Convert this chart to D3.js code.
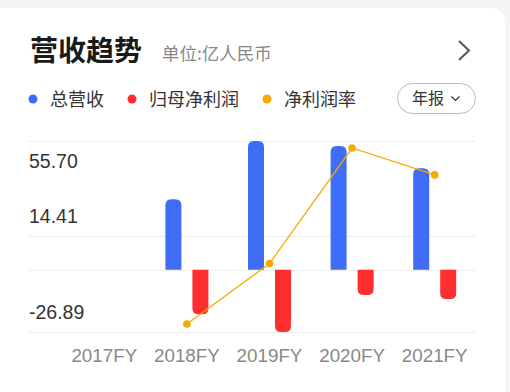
<!DOCTYPE html>
<html><head><meta charset="utf-8">
<script src="https://cdn.jsdelivr.net/npm/d3@7/dist/d3.min.js"></script>
<style>
html,body{margin:0;padding:0;background:#f5f5f5;}
svg{display:block;}
text{font-family:"Helvetica Neue",Helvetica,Arial,"Liberation Sans","Noto Sans CJK SC",sans-serif;}
</style></head>
<body>
<svg id="c" width="510" height="392"></svg>
<script>
const categories = ["2017FY","2018FY","2019FY","2020FY","2021FY"];
const revenue    = [null, 30.5, 55.70, 53.5, 43.9];
const netProfit  = [null, -19.2, -26.89, -10.9, -12.6];
const netMargin  = [null, -62.9, -48.3, -20.4, -26.9];
const yTicks     = [55.70, 14.41, -26.89];
const legendItems = [{name:"总营收", color:"#3f6df8"},{name:"归母净利润", color:"#ff2f2f"},{name:"净利润率", color:"#f8a902"}];

const svg = d3.select("#c");
const cjk = '"Noto Sans CJK SC","PingFang SC",sans-serif';

// card
svg.append("rect").attr("x",-20).attr("y",8).attr("width",525).attr("height",400).attr("rx",14).attr("fill","#fff");

// title
svg.append("text").attr("x",30).attr("y",61).attr("font-size",28).attr("font-weight",700).attr("fill","#1a1a1a").style("font-family",cjk).text("营收趋势");
svg.append("text").attr("x",162).attr("y",59.5).attr("font-size",17.5).attr("fill","#888").style("font-family",cjk).text("单位:亿人民币");
svg.append("path").attr("d","M459,41 L469,50.5 L459,60").attr("fill","none").attr("stroke","#555").attr("stroke-width",2);

// legend
const lx = [33, 132, 267];
legendItems.forEach((d,i)=>{
  svg.append("circle").attr("cx",lx[i]).attr("cy",99).attr("r",4.5).attr("fill",d.color);
  svg.append("text").attr("x",lx[i]+17).attr("y",105.5).attr("font-size",18).attr("fill","#333").style("font-family",cjk).text(d.name);
});
// button
svg.append("rect").attr("x",397.5).attr("y",83.5).attr("width",78).attr("height",30).attr("rx",15).attr("fill","#fff").attr("stroke","#bbb").attr("stroke-width",1);
svg.append("text").attr("x",412).attr("y",104).attr("font-size",16).attr("fill","#333").style("font-family",cjk).text("年报");
svg.append("path").attr("d","M451.5,96.5 L455.5,100.5 L459.5,96.5").attr("fill","none").attr("stroke","#333").attr("stroke-width",1.2);

// scales
const x = d3.scaleBand().domain(categories).range([63,476]);
const y = d3.scaleLinear().domain([d3.min(netProfit.filter(v=>v!=null)), d3.max(revenue.filter(v=>v!=null))]).range([332,141]);
const margins = netMargin.filter(v=>v!=null);
const yr = d3.scaleLinear().domain([d3.min(margins), d3.max(margins)]).range([324,148]);

// grid
const gridVals = [...yTicks, 0];
svg.append("g").selectAll("line").data(gridVals).join("line")
  .attr("x1",29).attr("x2",476).attr("y1",d=>Math.round(y(d))+0.5).attr("y2",d=>Math.round(y(d))+0.5)
  .attr("stroke","#eeeeee").attr("stroke-width",1);

// y labels
svg.append("g").selectAll("text").data(yTicks).join("text")
  .attr("x",29).attr("y",(d,i)=> i===0 ? y(d)+26.5 : y(d)-13)
  .attr("font-size",19.5).attr("fill","#333").text(d=>d.toFixed(2));

// x labels
svg.append("g").selectAll("text").data(categories).join("text")
  .attr("x",d=>x(d)+x.bandwidth()/2).attr("y",362).attr("text-anchor","middle")
  .attr("font-size",18.8).attr("fill","#888").text(d=>d);

const bw = 16, off = 13.5, r = 6;
function barPath(cx, v){
  const y0 = y(0), y1 = y(v), l = cx-bw/2, rr = cx+bw/2;
  if (v >= 0){
    return `M${l},${y0} L${l},${y1+r} Q${l},${y1} ${l+r},${y1} L${rr-r},${y1} Q${rr},${y1} ${rr},${y1+r} L${rr},${y0} Z`;
  } else {
    return `M${l},${y0} L${l},${y1-r} Q${l},${y1} ${l+r},${y1} L${rr-r},${y1} Q${rr},${y1} ${rr},${y1-r} L${rr},${y0} Z`;
  }
}
const cx = c => x(c)+x.bandwidth()/2;
svg.append("g").selectAll("path").data(categories.map((c,i)=>({c,v:revenue[i]})).filter(d=>d.v!=null)).join("path")
  .attr("d",d=>barPath(cx(d.c)-off,d.v)).attr("fill",legendItems[0].color);
svg.append("g").selectAll("path").data(categories.map((c,i)=>({c,v:netProfit[i]})).filter(d=>d.v!=null)).join("path")
  .attr("d",d=>barPath(cx(d.c)+off,d.v)).attr("fill",legendItems[1].color);

// margin line
const pts = categories.map((c,i)=>({c,v:netMargin[i]})).filter(d=>d.v!=null);
svg.append("path").datum(pts).attr("d",d3.line().x(d=>cx(d.c)).y(d=>yr(d.v)))
  .attr("fill","none").attr("stroke",legendItems[2].color).attr("stroke-width",1.3);
svg.append("g").selectAll("circle").data(pts).join("circle")
  .attr("cx",d=>cx(d.c)).attr("cy",d=>yr(d.v)).attr("r",3.8).attr("fill",legendItems[2].color);
</script>
</body></html>
